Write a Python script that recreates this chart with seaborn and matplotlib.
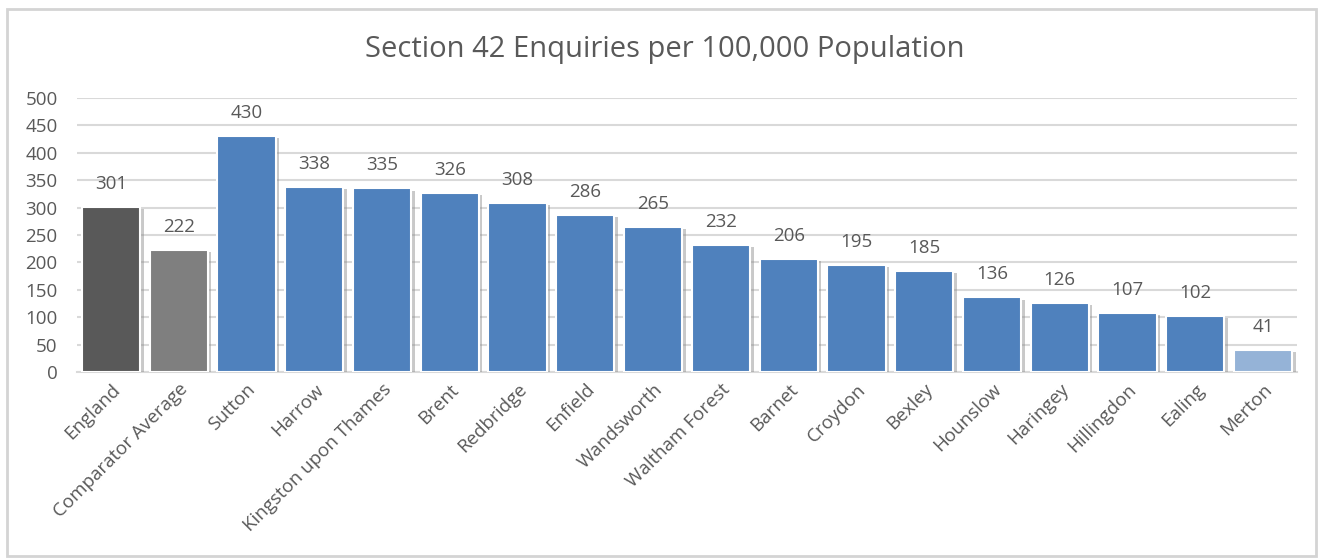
import matplotlib
matplotlib.use("Agg")
import matplotlib.pyplot as plt
import matplotlib.patheffects as pe
from matplotlib.patches import Rectangle
import seaborn as sns
import pandas as pd

categories = ["England", "Comparator Average", "Sutton", "Harrow", "Kingston upon Thames",
              "Brent", "Redbridge", "Enfield", "Wandsworth", "Waltham Forest", "Barnet",
              "Croydon", "Bexley", "Hounslow", "Haringey", "Hillingdon", "Ealing", "Merton"]
values = [301, 222, 430, 338, 335, 326, 308, 286, 265, 232, 206, 195, 185, 136, 126, 107, 102, 41]
bar_colors = ["#595959", "#7f7f7f"] + ["#4f81bd"] * 15 + ["#95b3d7"]
title = "Section 42 Enquiries per 100,000 Population"
yticks = [0, 50, 100, 150, 200, 250, 300, 350, 400, 450, 500]

sns.set_style("white")
plt.rcParams['font.family'] = ['Open Sans', 'DejaVu Sans']
text_color = "#595959"

df = pd.DataFrame({"cat": categories, "val": values})

fig = plt.figure(figsize=(13.25, 5.59), dpi=100)
ax = fig.add_axes([77/1325, 1 - 372/559, (1297-77)/1325, (372-98)/559])

sns.barplot(data=df, x="cat", y="val", hue="cat", palette=bar_colors, legend=False,
            width=0.86, ax=ax, saturation=1)

for p in ax.patches:
    p.set_edgecolor("white")
    p.set_linewidth(1.5)
    p.set_path_effects([pe.SimplePatchShadow(offset=(2.5, -1.5), shadow_rgbFace="#888888", alpha=0.45),
                        pe.Normal()])
    p.set_zorder(3)

for i, v in enumerate(values):
    ax.text(i, v + 42, str(v), ha="center", va="center", fontsize=13.5, color=text_color, zorder=4)

ax.set_ylim(0, 500)
ax.set_xlim(-0.5, len(categories) - 0.5)
ax.set_yticks(yticks)
ax.set_yticklabels([str(t) for t in yticks], fontsize=13.5, color=text_color)
ax.yaxis.grid(True, color="#d9d9d9", linewidth=1.5, zorder=0)
ax.set_axisbelow(True)
ax.tick_params(axis="y", length=0, pad=14)
ax.tick_params(axis="x", length=0, pad=6)
ax.set_xticks(range(len(categories)))
ax.set_xticklabels(categories, rotation=45, ha="right", rotation_mode="anchor",
                   fontsize=13.5, color=text_color)
ax.set_xlabel("")
ax.set_ylabel("")
for s in ["top", "right", "left"]:
    ax.spines[s].set_visible(False)
ax.spines["bottom"].set_color("#d9d9d9")
ax.spines["bottom"].set_linewidth(1.5)

fig.text(665/1325, 1 - 50/559, title, ha="center", va="center", fontsize=21, color=text_color)

fig.patches.append(Rectangle((7/1325, 1 - 556/559), (1316-7)/1325, (556-9)/559,
                             transform=fig.transFigure, fill=False, edgecolor="#d4d4d4",
                             linewidth=2))

fig.savefig("out.png", dpi=100, facecolor="white")
